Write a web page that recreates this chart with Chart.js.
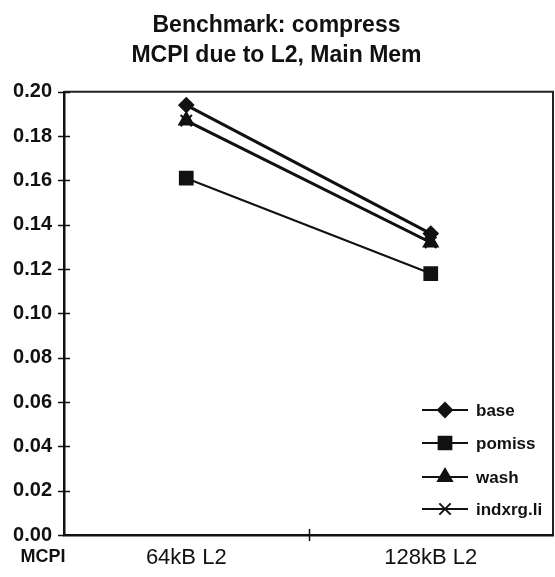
<!DOCTYPE html>
<html>
<head>
<meta charset="utf-8">
<script src="https://cdn.jsdelivr.net/npm/chart.js@4.4.1/dist/chart.umd.min.js"></script>
<style>
  html, body { margin: 0; padding: 0; background: #fff; }
  #wrap { width: 555px; height: 577px; }
</style>
</head>
<body>
<div id="wrap"><canvas id="chart" width="555" height="577"></canvas></div>
<script>
// Cache configurations on the x axis
const categories = ['64kB L2', '128kB L2'];

// MCPI due to L2 and main memory, one list per scheme
const seriesNames = ['base', 'pomiss', 'wash', 'indxrg.li'];
const base = [0.194, 0.136];
const pomiss = [0.161, 0.118];
const wash = [0.187, 0.132];
const indxrgLi = [0.187, 0.132];

// Value axis ticks
const yTicks = [0.00, 0.02, 0.04, 0.06, 0.08, 0.10, 0.12, 0.14, 0.16, 0.18, 0.20];

const titleLines = ['Benchmark: compress', 'MCPI due to L2, Main Mem'];
const rowLabel = 'MCPI';

const INK = '#111';
const FONT = "'Liberation Sans', Arial, sans-serif";

const styles = [
  { pointStyle: 'rectRot', pointRadius: 7, borderWidth: 3 },
  { pointStyle: 'rect', pointRadius: 9, borderWidth: 2 },
  { pointStyle: 'triangle', pointRadius: 8, borderWidth: 3 },
  { pointStyle: 'crossRot', pointRadius: 8, borderWidth: 2 }
];
const seriesValues = [base, pomiss, wash, indxrgLi];

const datasets = seriesNames.map((name, i) => ({
  label: name,
  data: seriesValues[i],
  borderColor: INK,
  backgroundColor: INK,
  pointBackgroundColor: INK,
  pointBorderColor: INK,
  pointBorderWidth: 2,
  borderWidth: styles[i].borderWidth,
  pointStyle: styles[i].pointStyle,
  pointRadius: styles[i].pointRadius,
  tension: 0,
  fill: false
}));

// Frame, crossing tick marks, the in-plot legend and the row label
const decorations = {
  id: 'decorations',
  afterDraw(chart) {
    const { ctx, chartArea: a, scales } = chart;
    const y = scales.y, x = scales.x;
    ctx.save();
    ctx.strokeStyle = '#222';
    ctx.lineWidth = 2;
    ctx.beginPath();
    ctx.moveTo(a.left, a.top);
    ctx.lineTo(a.right, a.top);
    ctx.lineTo(a.right, a.bottom);
    ctx.stroke();

    ctx.strokeStyle = INK;
    ctx.lineWidth = 1.5;
    ctx.beginPath();
    yTicks.forEach(v => {
      const py = Math.round(y.getPixelForValue(v)) + 0.5;
      ctx.moveTo(a.left - 6, py);
      ctx.lineTo(a.left + (v === 0 ? 0 : 6), py);
    });
    for (let i = 1; i < categories.length; i++) {
      const px = Math.round((x.getPixelForValue(i - 1) + x.getPixelForValue(i)) / 2) + 0.5;
      ctx.moveTo(px, a.bottom - 6);
      ctx.lineTo(px, a.bottom + 6);
    }
    ctx.stroke();

    // legend
    const lx0 = a.right - 131, lx1 = a.right - 85, mx = a.right - 108, tx = a.right - 77;
    const rowY = [a.bottom - 125, a.bottom - 92, a.bottom - 58, a.bottom - 26];
    ctx.font = "bold 17px " + FONT;
    ctx.textBaseline = 'middle';
    ctx.textAlign = 'left';
    chart.data.datasets.forEach((ds, i) => {
      const ly = rowY[i];
      ctx.strokeStyle = INK;
      ctx.lineWidth = 2;
      ctx.beginPath();
      ctx.moveTo(lx0, ly);
      ctx.lineTo(lx1, ly);
      ctx.stroke();
      ctx.fillStyle = INK;
      ctx.strokeStyle = INK;
      Chart.helpers.drawPoint(ctx, {
        pointStyle: ds.pointStyle,
        radius: ds.pointRadius,
        rotation: 0,
        borderWidth: 2
      }, mx, ly);
      ctx.fillStyle = INK;
      ctx.fillText(ds.label, tx, ly + 1);
    });

    // row label under the value axis
    ctx.font = "bold 18px " + FONT;
    ctx.textAlign = 'center';
    ctx.textBaseline = 'middle';
    ctx.fillText(rowLabel, 43, 557);
    ctx.restore();
  }
};

new Chart(document.getElementById('chart'), {
  type: 'line',
  data: { labels: categories, datasets },
  options: {
    responsive: false,
    animation: false,
    devicePixelRatio: 1,
    layout: { autoPadding: false, padding: { left: 0, right: 2, top: 0, bottom: 0 } },
    plugins: {
      legend: { display: false },
      tooltip: { enabled: false },
      title: {
        display: true,
        text: titleLines,
        color: INK,
        font: { family: FONT, weight: 'bold', size: 23, lineHeight: 1.3 },
        padding: { top: 11, bottom: 21 }
      }
    },
    scales: {
      x: {
        type: 'category',
        offset: true,
        grid: { display: false, drawTicks: false },
        border: { display: true, color: INK, width: 2.5 },
        ticks: { color: INK, font: { family: FONT, size: 22 }, padding: 10, maxRotation: 0 },
        afterFit(scale) {
          scale.height = 42;
          scale.paddingLeft = 0;
          scale.paddingRight = 0;
        }
      },
      y: {
        min: 0,
        max: 0.2,
        grid: { display: false, drawTicks: false },
        border: { display: true, color: INK, width: 2.5 },
        afterBuildTicks(scale) { scale.ticks = yTicks.map(v => ({ value: v })); },
        ticks: {
          color: INK,
          font: { family: FONT, weight: 'bold', size: 20 },
          padding: 12,
          callback: v => Number(v).toFixed(2)
        },
        afterFit(scale) {
          scale.width = 64;
          scale.paddingTop = 0;
          scale.paddingBottom = 0;
        }
      }
    }
  },
  plugins: [decorations]
});
</script>
</body>
</html>
